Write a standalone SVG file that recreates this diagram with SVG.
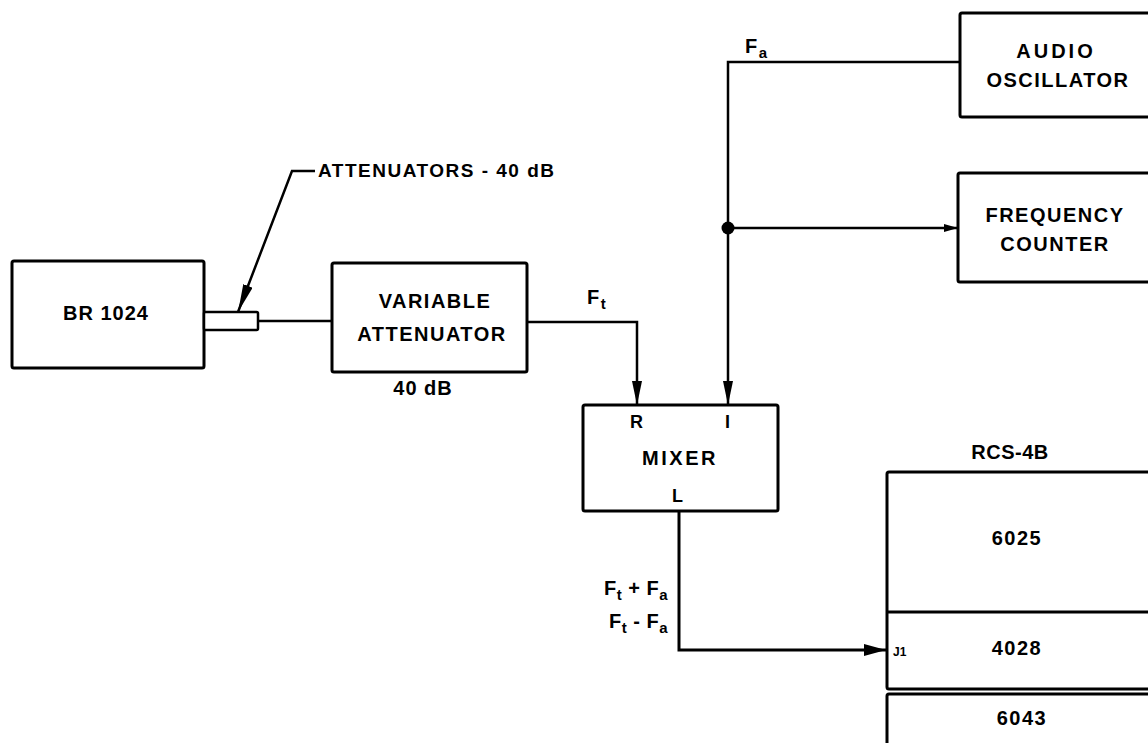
<svg xmlns="http://www.w3.org/2000/svg" width="1148" height="743" viewBox="0 0 1148 743">
<defs>
<style>
.box{fill:#fff;stroke:#000;stroke-width:3}
.ln{fill:none;stroke:#000;stroke-width:2.5}
.t{font-family:"Liberation Sans",Arial,sans-serif;font-weight:bold;font-size:20px;letter-spacing:1.5px;fill:#000}
.m{text-anchor:middle}
.s{font-size:18px;letter-spacing:1px}
.sub{font-size:15px}
</style>
<marker id="arr" viewBox="0 0 24 10" refX="24" refY="5" markerWidth="24" markerHeight="10" markerUnits="userSpaceOnUse" orient="auto"><path d="M0,0 L24,5 L0,10 Z" fill="#000"/></marker>
<marker id="arrS" viewBox="0 0 14 8" refX="14" refY="4" markerWidth="14" markerHeight="8" markerUnits="userSpaceOnUse" orient="auto"><path d="M0,0 L14,4 L0,8 Z" fill="#000"/></marker>
<marker id="arrJ" viewBox="0 0 22 12" refX="22" refY="6" markerWidth="22" markerHeight="12" markerUnits="userSpaceOnUse" orient="auto"><path d="M0,0 L22,6 L0,12 Z" fill="#000"/></marker>
<marker id="arrL" viewBox="0 0 28 10" refX="28" refY="5" markerWidth="28" markerHeight="10" markerUnits="userSpaceOnUse" orient="auto"><path d="M0,0 L28,5 L0,10 Z" fill="#000"/></marker>
</defs>
<rect width="1148" height="743" fill="#fff"/>

<g id="connectors">
<line class="ln" x1="258" y1="321" x2="332" y2="321"/>
<path class="ln" d="M527,322 H637 V405" marker-end="url(#arr)"/>
<path class="ln" d="M960,62 H728 V405" marker-end="url(#arr)"/>
<path class="ln" d="M728,228 H958" marker-end="url(#arrS)"/>
<circle cx="728" cy="228" r="6.5" fill="#000"/>
<path class="ln" d="M679,511 V650 H886" style="stroke-width:3" marker-end="url(#arrJ)"/>
<path class="ln" d="M315,171 H292 L238,312" marker-end="url(#arrL)"/>
</g>

<g id="br1024">
<rect class="box" x="12" y="261" width="192" height="107" rx="2"/>
<rect class="box" x="204" y="312" width="54" height="18" rx="1.5" style="stroke-width:2.5"/>
<text class="t m" x="106" y="320" style="letter-spacing:1px">BR 1024</text>
</g>

<g id="attenuators-label">
<text class="t" x="318" y="177" style="font-size:19px">ATTENUATORS - 40 dB</text>
</g>

<g id="variable-attenuator">
<rect class="box" x="332" y="263" width="195" height="109" rx="2"/>
<text class="t m" x="435" y="308">VARIABLE</text>
<text class="t m" x="432" y="341">ATTENUATOR</text>
<text class="t m" x="423" y="395" style="letter-spacing:1px">40 dB</text>
</g>

<g id="ft-label">
<text class="t" x="587" y="304">F<tspan class="sub" dy="5">t</tspan></text>
</g>

<g id="fa-label">
<text class="t" x="745" y="53">F<tspan class="sub" dy="5">a</tspan></text>
</g>

<g id="audio-oscillator">
<rect class="box" x="960" y="13" width="210" height="104" rx="2"/>
<text class="t m" x="1056" y="58" style="letter-spacing:3px">AUDIO</text>
<text class="t m" x="1058" y="87">OSCILLATOR</text>
</g>

<g id="frequency-counter">
<rect class="box" x="958" y="173" width="212" height="109" rx="2"/>
<text class="t m" x="1055" y="222">FREQUENCY</text>
<text class="t m" x="1055" y="251">COUNTER</text>
</g>

<g id="mixer">
<rect class="box" x="583" y="405" width="195" height="106" rx="2"/>
<text class="t m s" x="637" y="428">R</text>
<text class="t m s" x="728" y="428">I</text>
<text class="t m" x="680" y="465" style="letter-spacing:2.5px">MIXER</text>
<text class="t m s" x="678" y="502">L</text>
</g>

<g id="mix-output-label">
<text class="t" x="668" y="595" text-anchor="end" style="letter-spacing:0.5px">F<tspan class="sub" dy="5">t</tspan><tspan dy="-5"> + F</tspan><tspan class="sub" dy="5">a</tspan></text>
<text class="t" x="668" y="628" text-anchor="end" style="letter-spacing:0.5px">F<tspan class="sub" dy="5">t</tspan><tspan dy="-5"> - F</tspan><tspan class="sub" dy="5">a</tspan></text>
</g>

<g id="rcs-4b">
<text class="t m" x="1010" y="459" style="letter-spacing:0.5px">RCS-4B</text>
<rect class="box" x="887" y="472" width="290" height="217" rx="2"/>
<line x1="887" y1="612" x2="1160" y2="612" stroke="#000" stroke-width="3"/>
<rect class="box" x="887" y="694" width="290" height="80" rx="2"/>
<text class="t m" x="1017" y="545">6025</text>
<text class="t m" x="1017" y="655">4028</text>
<text class="t m" x="1022" y="725">6043</text>
<text class="t" x="893" y="656" style="font-size:12px;letter-spacing:0">J1</text>
</g>
</svg>
